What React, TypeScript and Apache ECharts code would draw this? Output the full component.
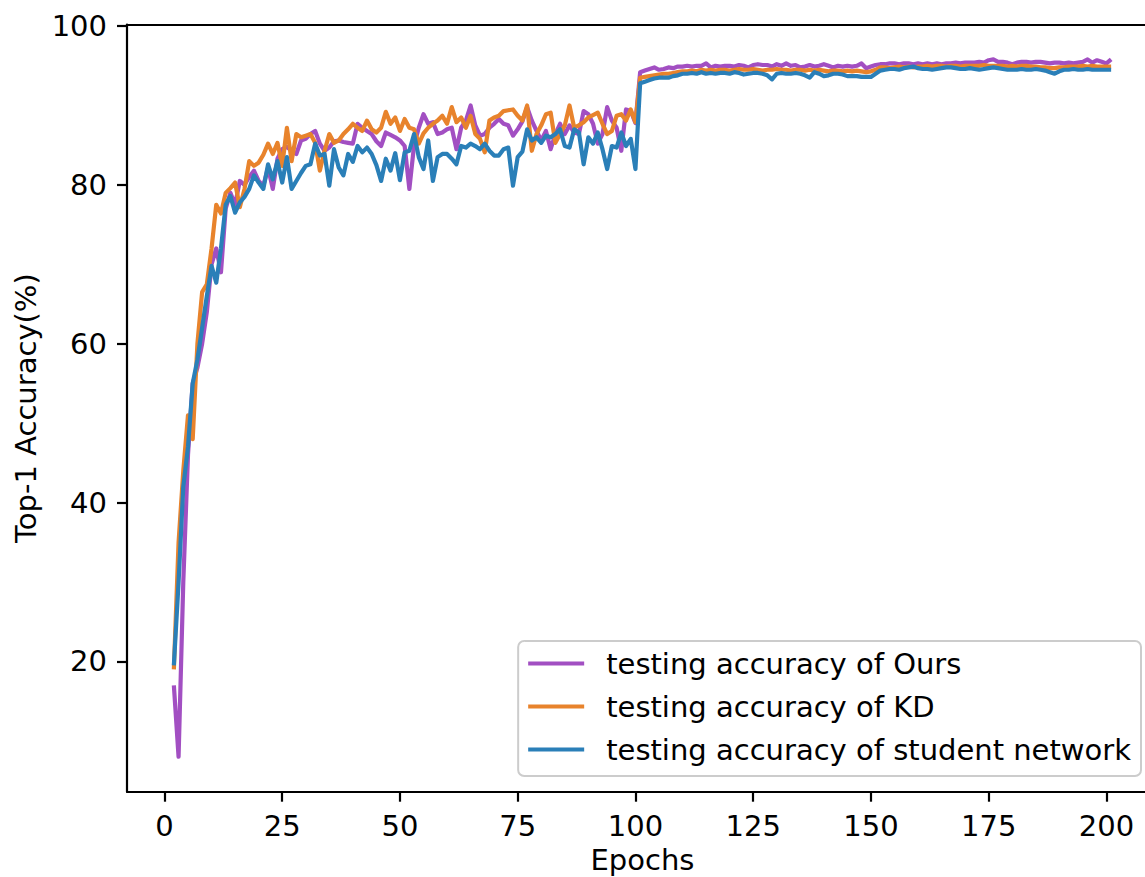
import React, { useEffect, useRef } from "react";
import * as echarts from "echarts";

const FIRST_EPOCH = 2;
const X_TICKS = [0, 25, 50, 75, 100, 125, 150, 175, 200];
const Y_TICKS = [20, 40, 60, 80, 100];
const SERIES_NAMES = [
  "testing accuracy of Ours",
  "testing accuracy of KD",
  "testing accuracy of student network",
];
const COLORS = ["#a24fc2", "#e8832c", "#2a7fb8"];

const ours = [
  17, 8, 30, 46, 55, 57, 60, 64, 70, 72,
  69, 77, 79, 77.5, 80.5, 80, 81, 81.8, 80.5, 79.9,
  82.2, 79.5, 83.3, 84.5, 84.8, 84.3, 83.9, 85.6, 85.8, 86.4,
  86.8, 85.2, 84.3, 84.7, 85.5, 85.6, 85.4, 85.3, 85.2, 87.7,
  87.2, 86.8, 86.4, 85.5, 84.9, 86.6, 86.3, 86, 85.6, 84.9,
  79.5, 85, 87.2, 88.9, 87.7, 87.9, 86.4, 86.6, 87, 87.2,
  84.5, 87.2, 88.1, 90, 87.5, 86.2, 86.4, 87.2, 87.7, 88.3,
  87.7, 87.5, 86.2, 87, 88, 89.8, 88.1, 86.8, 85.6, 86.8,
  84.5, 86.4, 87.7, 86.4, 87.5, 86.6, 86.4, 89.3, 88.9, 87.7,
  85.2, 86.4, 89.8, 88.1, 87.2, 84.3, 89.5, 89.3, 87.8, 94.2,
  94.4, 94.6, 94.8, 94.5, 94.6, 94.8, 94.7, 94.9, 94.9, 95,
  94.9, 95, 95, 95.3, 94.8, 95, 94.9, 95, 95, 94.9,
  95.1, 95, 94.8, 95.1, 95.2, 95.1, 95.1, 94.9, 95.2, 95,
  95.3, 95, 95.1, 94.8, 94.9, 95.1, 94.9, 95, 95.2, 95,
  94.8, 95, 94.9, 95, 94.9, 95, 95.3, 94.7, 94.9, 95.1,
  95.2, 95.2, 95.3, 95.3, 95.2, 95.3, 95.3, 95.2, 95.3, 95.2,
  95.3, 95.2, 95.3, 95.2, 95.3, 95.3, 95.4, 95.3, 95.4, 95.4,
  95.4, 95.5, 95.4, 95.7, 95.8, 95.5, 95.5, 95.4, 95.2, 95.4,
  95.5, 95.5, 95.4, 95.5, 95.5, 95.4, 95.3, 95.4, 95.4, 95.3,
  95.4, 95.3, 95.4, 95.5, 95.8, 95.4, 95.7, 95.5, 95.3, 95.8,
];

const kd = [
  19, 35, 44, 51, 48, 60, 66.5, 67.5, 72, 77.5,
  76.4, 79, 79.6, 80.3, 77.2, 79.5, 83, 82.4, 82.8, 83.8,
  85.2, 83.9, 85.3, 82.4, 87.2, 83, 86.4, 86, 86.2, 86.4,
  85.3, 81.8, 84.3, 86.4, 85.3, 85.6, 86.4, 87, 87.7, 87.2,
  86.8, 88.1, 87, 86.6, 87.2, 89.2, 87.7, 88.5, 86.8, 88.3,
  87.2, 87, 85.2, 86.5, 87.2, 87.7, 88.1, 88.7, 87.7, 89.8,
  87.9, 88.5, 87.2, 88.7, 86.4, 85.8, 84.1, 88.1, 88.5, 88.7,
  89.3, 89.4, 89.5, 88.7, 88.1, 90, 84.3, 86.4, 87.5, 88.9,
  89.1, 85.3, 86.4, 87.5, 90, 87.2, 87.5, 87.9, 88.5, 88.8,
  89.1, 87.7, 86.4, 86.8, 88.7, 88.9, 88.1, 89.5, 87.9, 93.5,
  93.6, 93.7, 93.8, 93.9, 94, 94, 94.1, 94.2, 94.3, 94.3,
  94.4, 94.3, 94.5, 94.4, 94.5, 94.4, 94.5, 94.5, 94.4, 94.5,
  94.6, 94.5, 94.5, 94.6, 94.5, 94.4, 94.5, 94.5, 94.6, 94.5,
  94.5, 94.4, 94.5, 94.5, 94.4, 94.5, 94.4, 94.5, 94.4, 94.3,
  94.4, 94.4, 94.3, 94.4, 94.3, 94.4, 94.3, 94.2, 94.3, 94.5,
  94.8, 94.8, 94.7, 94.8, 94.9, 94.8, 94.9, 94.8, 94.9, 94.9,
  95, 94.9, 95, 95, 94.9, 95, 95, 94.9, 95, 95,
  95, 95, 95.1, 95, 95, 95, 95, 94.9, 95, 94.9,
  95, 95, 94.9, 94.9, 94.8, 94.8, 94.7, 94.7, 94.8, 94.8,
  94.9, 94.9, 94.9, 95, 94.9, 95, 94.9, 94.9, 94.9, 94.9,
];

const student = [
  19.5, 30, 42, 47, 55, 58, 62, 66, 69.8, 67.7,
  72, 77.5, 78.6, 76.5, 77.8, 78.5, 79.5, 81.2, 80.3, 79.5,
  82.6, 80.7, 83, 80.3, 83.5, 79.5, 80.5, 81.5, 82.4, 82.6,
  85.2, 83.7, 83.9, 79.9, 84.5, 82.2, 81.2, 83.9, 82.9, 84.9,
  84.1, 84.7, 83.9, 82.5, 80.5, 83.3, 81.8, 84, 80.6, 84.1,
  84.3, 86.4, 83.5, 82, 85.6, 80.5, 83.5, 83.9, 83.9, 83.3,
  82.6, 84.9, 84.7, 85.2, 84.9, 84.5, 85.2, 84.3, 83.7, 83.7,
  84.5, 84.7, 79.9, 83.5, 84.2, 87, 85.6, 86, 85.3, 86.2,
  86, 86.4, 87, 84.9, 84.7, 87, 86.6, 82.6, 86, 85.2,
  86.6, 84.5, 82, 84.9, 84.7, 86.6, 84.9, 85.8, 82, 92.8,
  93, 93.2, 93.4, 93.5, 93.5, 93.5, 93.7, 93.8, 94, 94,
  94.1, 94, 94.2, 94, 94.1, 94, 94.1, 94.1, 94, 94.2,
  94.1, 93.9, 94, 94.1, 94.1, 94, 93.8, 93.3, 94, 94.1,
  94, 94, 94.1, 94, 93.8, 93.5, 94.2, 94, 93.7, 93.8,
  94, 94, 93.9, 93.7, 93.7, 93.7, 93.6, 93.6, 93.6, 94,
  94.4, 94.5, 94.6, 94.6, 94.5, 94.7, 94.8, 94.9, 94.7, 94.6,
  94.6, 94.5, 94.6, 94.7, 94.8, 94.8, 94.7, 94.6, 94.6, 94.7,
  94.6, 94.5, 94.6, 94.7, 94.8, 94.7, 94.6, 94.5, 94.5, 94.5,
  94.6, 94.5, 94.5, 94.6, 94.5, 94.4, 94.2, 94, 94.3, 94.5,
  94.5, 94.6, 94.5, 94.5, 94.6, 94.5, 94.5, 94.5, 94.5, 94.5,
];

const FONT = "'DejaVu Sans', sans-serif";

function toPairs(values: number[]) {
  return values.map((v, i) => [FIRST_EPOCH + i, v]);
}

export default function App() {
  const ref = useRef<HTMLDivElement>(null);

  useEffect(() => {
    if (!ref.current) return;
    const chart = echarts.init(ref.current, undefined, { renderer: "svg" });
    const allSeries = [ours, kd, student];
    const axisLine = {
      show: true,
      onZero: false,
      lineStyle: { color: "#000", width: 2.2 },
    };
    chart.setOption({
      animation: false,
      backgroundColor: "#fff",
      textStyle: { fontFamily: FONT },
      grid: {
        left: 127,
        top: 24.5,
        right: -13,
        bottom: 85.3,
        show: false,
        containLabel: false,
        outerBoundsMode: "none",
      },
      legend: {
        data: SERIES_NAMES,
        orient: "vertical",
        right: 4,
        bottom: 101,
        icon: "rect",
        itemWidth: 56,
        itemHeight: 4,
        itemGap: 14,
        padding: [8, 10, 12, 10],
        backgroundColor: "rgba(255,255,255,0.8)",
        borderColor: "#cccccc",
        borderWidth: 2,
        borderRadius: 6,
        selectedMode: false,
        textStyle: {
          fontSize: 29,
          color: "#000",
          fontFamily: FONT,
          padding: [0, 0, 0, 17],
        },
      },
      xAxis: [
        {
          type: "value",
          min: -7.95,
          max: 210.95,
          name: "Epochs",
          nameLocation: "middle",
          nameGap: 50,
          nameTextStyle: { fontSize: 29, color: "#000", fontFamily: FONT },
          axisLine,
          axisTick: {
            show: true,
            length: 10,
            lineStyle: { color: "#000", width: 2.2 },
            customValues: X_TICKS,
          },
          axisLabel: {
            fontSize: 29,
            color: "#000",
            margin: 20,
            fontFamily: FONT,
            customValues: X_TICKS,
          },
          splitLine: { show: false },
        },
        {
          type: "value",
          position: "top",
          min: -7.95,
          max: 210.95,
          axisLine,
          axisTick: { show: false },
          axisLabel: { show: false },
          splitLine: { show: false },
        },
      ],
      yAxis: {
        type: "value",
        min: 3.6,
        max: 100.2,
        name: "Top-1 Accuracy(%)",
        nameLocation: "middle",
        nameGap: 85,
        nameTextStyle: { fontSize: 29, color: "#000", fontFamily: FONT },
        axisLine,
        axisTick: {
          show: true,
          length: 10,
          lineStyle: { color: "#000", width: 2.2 },
          customValues: Y_TICKS,
        },
        axisLabel: {
          fontSize: 29,
          color: "#000",
          margin: 20,
          fontFamily: FONT,
          customValues: Y_TICKS,
        },
        splitLine: { show: false },
      },
      series: allSeries.map((vals, i) => ({
        name: SERIES_NAMES[i],
        type: "line",
        data: toPairs(vals),
        showSymbol: false,
        symbol: "none",
        color: COLORS[i],
        lineStyle: { color: COLORS[i], width: 4.2, join: "round" },
        z: 2 + i,
      })),
    });
    return () => chart.dispose();
  }, []);

  return (
    <div
      ref={ref}
      style={{ position: "fixed", left: 0, top: 0, width: 1145, height: 877 }}
    />
  );
}
